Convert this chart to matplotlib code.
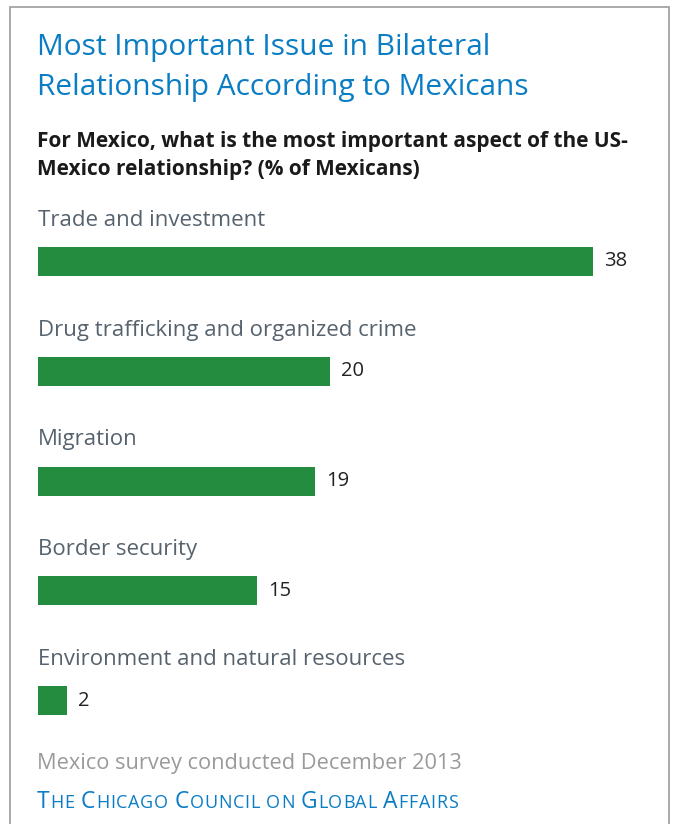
import matplotlib.pyplot as plt
from matplotlib.patches import Rectangle

# Survey answers, % of Mexicans
categories = [
    'Trade and investment',
    'Drug trafficking and organized crime',
    'Migration',
    'Border security',
    'Environment and natural resources',
]
values = [38, 20, 19, 15, 2]

title_lines = ['Most Important Issue in Bilateral', 'Relationship According to Mexicans']
question_lines = ['For Mexico, what is the most important aspect of the US-',
                  'Mexico relationship? (% of Mexicans)']
survey_note = 'Mexico survey conducted December 2013'
source = 'The Chicago Council on Global Affairs'

W, H = 673, 824
DPI = 100
BLUE = '#0b7dc5'
GREEN = '#248c3f'
SLATE = '#56636e'
FONT = 'Open Sans'

plt.rcParams['font.family'] = [FONT, 'DejaVu Sans']

fig = plt.figure(figsize=(W / DPI, H / DPI), dpi=DPI)
fig.patch.set_facecolor('white')


def fx(px):
    return px / W


def fy(py):
    return 1 - py / H


# outer frame, open at the bottom
fig.add_artist(Rectangle((fx(10), fy(860)), fx(659), (860 - 7) / H,
                         transform=fig.transFigure, fill=False,
                         edgecolor='#9c9c9c', linewidth=1.2))

for i, line in enumerate(title_lines):
    fig.text(fx(37), fy(55.5 + 40 * i), line, color=BLUE, fontsize=21.5,
             va='baseline', ha='left')

for i, line in enumerate(question_lines):
    fig.text(fx(37), fy(147 + 28.5 * i), line, color='#1a1a1a', fontsize=15,
             fontweight='bold', va='baseline', ha='left')

# bars: x=0 sits at px 38, 14.6 px per percent point
px_per_unit = 14.6
xmax = 40
row_px = 109.75
top_px = 261.5 - 0.5 * row_px
ax = fig.add_axes([fx(38), fy(top_px + 5 * row_px), xmax * px_per_unit / W, 5 * row_px / H])
ax.set_xlim(0, xmax)
ax.set_ylim(4.5, -0.5)
ax.axis('off')

ypos = list(range(len(categories)))
ax.barh(ypos, values, height=29 / row_px, color=GREEN, linewidth=0)

for y, cat, v in zip(ypos, categories, values):
    ax.text(0, y - 35.7 / row_px, cat, color=SLATE, fontsize=16,
            va='baseline', ha='left')
    ax.annotate(str(v), xy=(v, y), xytext=(8, 0), textcoords='offset points',
                color='#222222', fontsize=14.5, va='center', ha='left')

fig.text(fx(37), fy(769), survey_note, color='#9a9a9a', fontsize=15.7,
         va='baseline', ha='left')

# small caps line, one glyph at a time with a little tracking
renderer = fig.canvas.get_renderer()
big, small = 16.5, 13
tracking = 0.8  # px between glyphs
space_w = fig.text(0, 0, 'a a', fontsize=small).get_window_extent(renderer).width \
    - fig.text(0, 0, 'aa', fontsize=small).get_window_extent(renderer).width
for t in fig.texts[-2:]:
    t.remove()

x = 37.0
for wi, word in enumerate(source.split(' ')):
    if wi > 0:
        x += space_w + tracking
    for ci, ch in enumerate(word):
        size = big if (ci == 0 and word.lower() != 'on') else small
        t = fig.text(fx(x), fy(807.5), ch.upper(), color=BLUE, fontsize=size,
                     va='baseline', ha='left')
        x += t.get_window_extent(renderer).width + tracking

fig.savefig('out.png', dpi=DPI, facecolor='white')
